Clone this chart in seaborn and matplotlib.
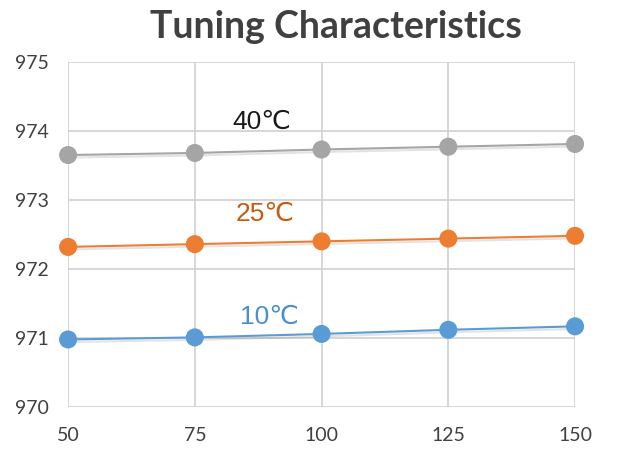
import matplotlib
matplotlib.use("Agg")
import matplotlib.pyplot as plt
import matplotlib.patheffects as pe
import seaborn as sns
import pandas as pd

x_vals = [50, 75, 100, 125, 150]
t40 = [973.65, 973.68, 973.73, 973.77, 973.81]
t25 = [972.32, 972.36, 972.40, 972.44, 972.48]
t10 = [970.98, 971.01, 971.06, 971.12, 971.17]
series_names = ["40℃", "25℃", "10℃"]
line_colors = ["#A5A5A5", "#ED7D31", "#5B9BD5"]
label_colors = ["#1a1a1a", "#C55A11", "#4A90D0"]
label_pos = [(88.3, 974.13), (88.9, 972.8), (89.8, 971.3)]
y_ticks = [970, 971, 972, 973, 974, 975]

sns.set_theme(style="white")
plt.rcParams['font.family'] = ['Liberation Sans', 'DejaVu Sans']

df = pd.DataFrame({
    "x": x_vals * 3,
    "y": t40 + t25 + t10,
    "s": sum([[n] * len(x_vals) for n in series_names], []),
})

fig = plt.figure(figsize=(6.19, 4.68), dpi=100)
ax = fig.add_axes([0.11, 0.13, 0.819, 0.738])

shadow = [pe.SimpleLineShadow(offset=(1.2, -1.8), shadow_color="k", alpha=0.12), pe.Normal()]
sns.lineplot(data=df, x="x", y="y", hue="s", palette=line_colors, marker="o",
             markersize=13, markeredgewidth=0, linewidth=1.5, ax=ax, legend=False)
for ln in ax.lines:
    ln.set_path_effects(shadow)
    ln.set_clip_on(False)

ax.set_xlim(50, 150)
ax.set_ylim(970, 975)
ax.set_xticks(x_vals)
ax.set_yticks(y_ticks)
ax.grid(True, color="#D0D0D0", linewidth=1.2)
for sp in ax.spines.values():
    sp.set_visible(False)
ax.set_xlabel("")
ax.set_ylabel("")
ax.tick_params(axis="both", labelsize=14, colors="#404040", length=0)
ax.tick_params(axis="x", pad=14)
ax.tick_params(axis="y", pad=14)
for lbl in ax.get_xticklabels() + ax.get_yticklabels():
    lbl.set_family(['Lato', 'DejaVu Sans'])
for name, col, (lx, ly) in zip(series_names, label_colors, label_pos):
    ax.text(lx, ly, name, color=col, fontsize=19, ha="center", va="center",
            family=['Liberation Sans', 'DejaVu Sans'])

fig.text(0.543, 0.942, "Tuning Characteristics", ha="center", va="center",
         fontsize=27, fontweight="bold", color="#404040", family=['Lato', 'DejaVu Sans'])

fig.savefig("out.png", dpi=100, facecolor="white")
